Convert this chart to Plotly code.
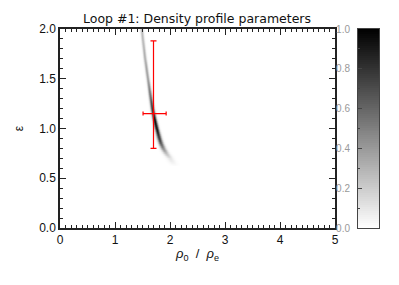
import numpy as np
import plotly.graph_objects as go

# ---- data ----
# ridge of the posterior density: centre (rho0/rhoe) for each epsilon, peak value, width
ridge_eps   = [0.62, 0.70, 0.75, 0.80, 0.85, 0.90, 1.00, 1.10, 1.20, 1.30, 1.40, 1.50, 1.60, 1.70, 1.80, 1.90, 2.00]
ridge_x     = [2.09, 2.00, 1.93, 1.875, 1.835, 1.805, 1.758, 1.715, 1.680, 1.652, 1.625, 1.598, 1.572, 1.546, 1.525, 1.505, 1.485]
ridge_peak  = [0.00, 0.10, 0.25, 0.45, 0.65, 0.80, 0.95, 1.00, 0.85, 0.65, 0.50, 0.42, 0.38, 0.35, 0.32, 0.30, 0.28]
ridge_sigma = [0.046, 0.041, 0.037, 0.033, 0.030, 0.028, 0.025, 0.023, 0.021, 0.020, 0.019, 0.018, 0.018, 0.017, 0.017, 0.017, 0.017]

# best fit with asymmetric errors
fit_x, fit_x_minus, fit_x_plus = 1.70, 0.19, 0.23
fit_eps, fit_eps_minus, fit_eps_plus = 1.15, 0.35, 0.73

x_ticks = [0, 1, 2, 3, 4, 5]
y_ticks = [0.0, 0.5, 1.0, 1.5, 2.0]
cbar_ticks = [0.0, 0.2, 0.4, 0.6, 0.8, 1.0]
cbar_levels = [i / 100 for i in range(101)]

# ---- build density image from ridge description ----
gx = np.arange(1.30, 2.40, 0.004)
gy = np.arange(0.50, 2.0001, 0.004)
X, Y = np.meshgrid(gx, gy)
xc = np.interp(Y, ridge_eps, ridge_x)
pk = np.interp(Y, ridge_eps, ridge_peak)
sg = np.interp(Y, ridge_eps, ridge_sigma)
Z = pk * np.exp(-((X - xc) ** 2) / (2 * sg ** 2))

greys = [[0, "white"], [1, "black"]]
font = "Liberation Sans"

OFF = 8                        # page body margin of the browser
L, R = 60 - OFF, 379 - OFF     # pixel extent of the plotting area (main plot + colour bar)
T, B = 29 - OFF, 228 - OFF
W = R - L

fig = go.Figure()
fig.add_trace(go.Heatmap(x=gx, y=gy, z=Z, zmin=0, zmax=1, colorscale=greys,
                         showscale=False, zsmooth="best", hoverinfo="skip"))
fig.add_trace(go.Scatter(
    x=[fit_x], y=[fit_eps], mode="markers",
    marker=dict(size=1, color="red"),
    error_x=dict(type="data", symmetric=False, array=[fit_x_plus], arrayminus=[fit_x_minus],
                 color="red", thickness=1.2, width=2),
    error_y=dict(type="data", symmetric=False, array=[fit_eps_plus], arrayminus=[fit_eps_minus],
                 color="red", thickness=1.2, width=3),
    showlegend=False))

# colour bar as its own small axis
fig.add_trace(go.Heatmap(x=[0], y=cbar_levels, z=[[v] for v in cbar_levels], zmin=0, zmax=1,
                         colorscale=greys, showscale=False, xaxis="x2", yaxis="y2",
                         hoverinfo="skip"))

axis_common = dict(showline=True, linecolor="#222", linewidth=1.5, mirror="allticks",
                   ticks="inside", tickcolor="#222", showgrid=False, zeroline=False,
                   automargin=False,
                   tickfont=dict(family=font, size=12, color="#111"))

fig.update_layout(
    width=399, height=285,
    margin=dict(l=L, r=399 - R, t=T, b=285 - B, autoexpand=False),
    paper_bgcolor="white", plot_bgcolor="white",
    title=dict(text="Loop #1: Density profile parameters", x=(197 - OFF) / 399,
               xanchor="center", xref="container",
               y=1 - (19 - OFF) / 285, yanchor="middle", yref="container",
               font=dict(family="DejaVu Sans", size=12.5, color="#111")),
    xaxis=dict(range=[0, 5], tickvals=x_ticks, ticktext=[str(v) for v in x_ticks],
               ticklen=6, minor=dict(dtick=0.1, ticklen=3, ticks="inside", tickcolor="#222"),
               domain=[0, (335 - OFF - L) / W],
               title=dict(text="<i>ρ</i><sub>0</sub>  /  <i>ρ</i><sub>e</sub>", standoff=3,
                          font=dict(family=font, size=13, color="#111")),
               **axis_common),
    yaxis=dict(range=[0, 2], tickvals=y_ticks, ticktext=[f"{v:.1f}" for v in y_ticks],
               ticklen=6, minor=dict(dtick=0.1, ticklen=3, ticks="inside", tickcolor="#222"),
               title=dict(text="ε", standoff=13, font=dict(family=font, size=12, color="#111")),
               **axis_common),
    xaxis2=dict(domain=[(358 - OFF - L) / W, 1], anchor="y2", range=[-0.5, 0.5],
                showticklabels=False, ticks="", showline=True, linecolor="#444", linewidth=1,
                mirror=True, showgrid=False, zeroline=False, automargin=False),
    yaxis2=dict(domain=[0, 1], anchor="x2", range=[0, 1], tickvals=cbar_ticks,
                ticktext=[f"{v:.1f}" for v in cbar_ticks], ticks="inside", ticklen=4,
                tickcolor="#444", minor=dict(dtick=0.1, ticklen=2, ticks="inside", tickcolor="#444"),
                showline=True, linecolor="#444", linewidth=1, mirror=True, showgrid=False,
                zeroline=False, automargin=False, ticklabelstandoff=5,
                tickfont=dict(family=font, size=10, color="#999")),
)

fig.write_html("out.html")
